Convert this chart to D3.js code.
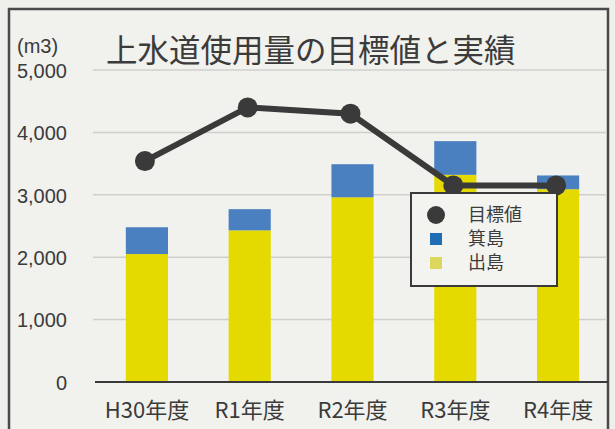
<!DOCTYPE html>
<html>
<head>
<meta charset="utf-8">
<script src="https://cdn.jsdelivr.net/npm/d3@7"></script>
<style>
  body { margin: 0; background: #efefeb; }
  svg { display: block; }
  text { font-family: "Liberation Sans", "Noto Sans CJK JP", sans-serif; fill: #3b3b3b; }
  .jp { font-family: "Noto Sans CJK JP", sans-serif; }
</style>
</head>
<body>
<div id="chart"></div>
<script>

// data
var years = ["H30年度", "R1年度", "R2年度", "R3年度", "R4年度"];
var dejima = [2050, 2430, 2960, 3320, 3090];   // 出島
var minoshima = [430, 340, 530, 540, 220];     // 箕島
var target = [3540, 4400, 4300, 3150, 3150];  // 目標値
var yTicks = [0, 1000, 2000, 3000, 4000, 5000];
var legendLabels = ["目標値", "箕島", "出島"];

var W = 615, H = 429;
var colYellow = "#e4da00", colBlue = "#4b80c0", colDark = "#3a3a3a";

var svg = d3.select("#chart").append("svg")
    .attr("width", W)
    .attr("height", H);

// frame
svg.append("rect")
    .attr("x", 9).attr("y", 9)
    .attr("width", 599).attr("height", 440)
    .attr("fill", "#f1f1ed")
    .attr("stroke", "#4a4a4a")
    .attr("stroke-width", 2.5);

// scales
var x = d3.scaleBand()
    .domain(years)
    .range([95, 610])
    .paddingInner(0.59)
    .paddingOuter(0.3);

var y = d3.scaleLinear()
    .domain([0, 5000])
    .range([382, 70]);

// gridlines
svg.append("g")
    .selectAll("line")
    .data(yTicks.filter(function(d) { return d > 0; }))
    .enter().append("line")
    .attr("x1", 93).attr("x2", 607)
    .attr("y1", function(d) { return y(d); })
    .attr("y2", function(d) { return y(d); })
    .attr("stroke", "#cfcfcc")
    .attr("stroke-width", 1.5);

// y axis labels
var yAxis = d3.axisLeft(y)
    .tickValues(yTicks)
    .tickFormat(d3.format(","))
    .tickSize(0)
    .tickPadding(0);

var gy = svg.append("g")
    .attr("transform", "translate(67,0)")
    .call(yAxis);
gy.select(".domain").remove();
gy.selectAll("text")
    .style("font-size", "20px")
    .attr("dy", "0.36em");

svg.append("text")
    .attr("x", 17).attr("y", 53)
    .style("font-size", "20px")
    .text("(m3)");

// title
svg.append("text")
    .attr("class", "jp")
    .attr("x", 106).attr("y", 62)
    .style("font-size", "31.5px")
    .text("上水道使用量の目標値と実績");

// stacked bars
var stackData = years.map(function(d, i) {
    return { year: d, dejima: dejima[i], minoshima: minoshima[i] };
});
var series = d3.stack().keys(["dejima", "minoshima"])(stackData);
var colors = { dejima: colYellow, minoshima: colBlue };

svg.append("g")
    .selectAll("g")
    .data(series)
    .enter().append("g")
    .attr("fill", function(s) { return colors[s.key]; })
    .selectAll("rect")
    .data(function(s) { return s; })
    .enter().append("rect")
    .attr("x", function(d) { return x(d.data.year); })
    .attr("y", function(d) { return y(d[1]); })
    .attr("width", x.bandwidth())
    .attr("height", function(d) { return y(d[0]) - y(d[1]); });

// x axis
var xAxis = d3.axisBottom(x).tickSize(0).tickPadding(0);
var gx = svg.append("g")
    .attr("transform", "translate(0,382)")
    .call(xAxis);
gx.select(".domain")
    .attr("d", "M95,0H608")
    .attr("stroke", colDark)
    .attr("stroke-width", 2);
gx.selectAll("text")
    .attr("class", "jp")
    .attr("y", 36)
    .attr("dy", 0)
    .style("font-size", "22px")
    .style("fill", "#3b3b3b");

// target line
var cx = function(d, i) { return x(years[i]) + x.bandwidth() / 2 - 2; };
var line = d3.line()
    .x(cx)
    .y(function(d) { return y(d); });

svg.append("path")
    .datum(target)
    .attr("d", line)
    .attr("fill", "none")
    .attr("stroke", colDark)
    .attr("stroke-width", 6);

svg.append("g")
    .selectAll("circle")
    .data(target)
    .enter().append("circle")
    .attr("cx", cx)
    .attr("cy", function(d) { return y(d); })
    .attr("r", 10)
    .attr("fill", colDark);

// legend
var lg = svg.append("g").attr("transform", "translate(411,193)");
lg.append("rect")
    .attr("width", 146).attr("height", 93)
    .attr("fill", "#f3f3ef")
    .attr("stroke", colDark)
    .attr("stroke-width", 2);

lg.append("circle")
    .attr("cx", 25).attr("cy", 22).attr("r", 9)
    .attr("fill", colDark);
lg.append("rect")
    .attr("x", 19).attr("y", 40).attr("width", 12).attr("height", 12)
    .attr("fill", "#1f6db5");
lg.append("rect")
    .attr("x", 19).attr("y", 64).attr("width", 12).attr("height", 12)
    .attr("fill", "#dcd85e");

lg.selectAll("text.lab")
    .data(legendLabels)
    .enter().append("text")
    .attr("class", "lab jp")
    .attr("x", 57)
    .attr("y", function(d, i) { return 22 + i * 24; })
    .attr("dy", "0.36em")
    .style("font-size", "18px")
    .text(function(d) { return d; });

</script>
</body>
</html>
